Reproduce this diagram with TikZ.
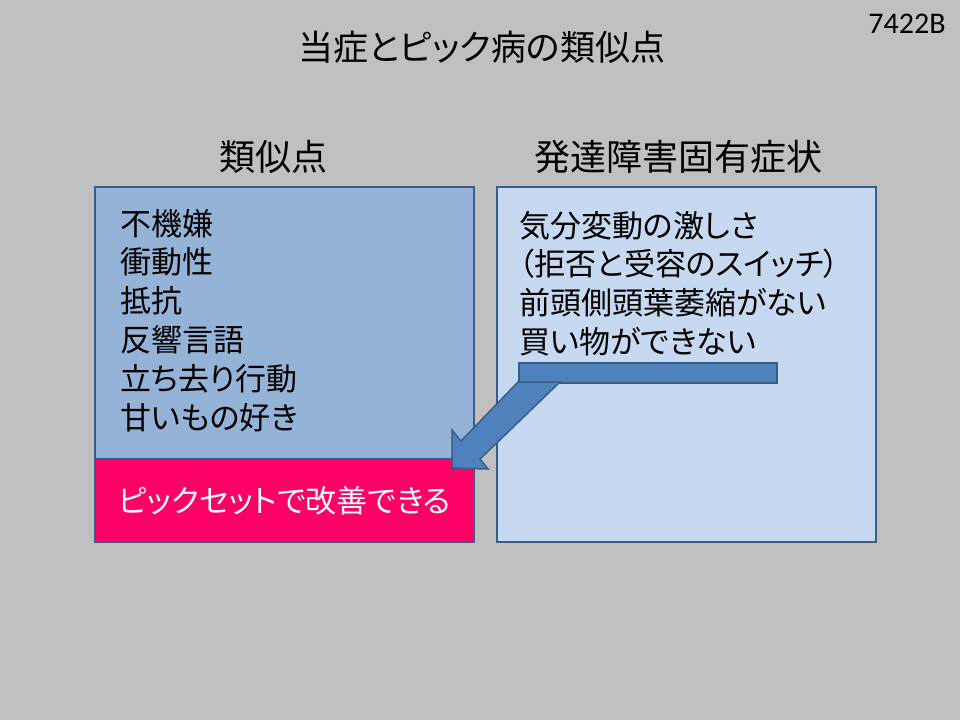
\documentclass[tikz,border=0pt]{standalone}
\usepackage{fontspec}
\setmainfont{Noto Sans CJK JP}[RawFeature=+palt]
\newfontfamily\latinfont{Carlito}
\usetikzlibrary{positioning}
\definecolor{slidegray}{HTML}{C0C0C0}
\definecolor{boxedge}{HTML}{385D8A}
\definecolor{simfill}{HTML}{95B3D7}
\definecolor{ownfill}{HTML}{C6D9F1}
\definecolor{pickpink}{HTML}{FF0066}
\definecolor{arrowfill}{HTML}{4F81BD}
\begin{document}
\begin{tikzpicture}[x=1pt,y=-1pt,
 panel/.style={draw=boxedge,line width=2pt,inner sep=0pt,anchor=north west},
 item/.style={anchor=base west,inner sep=0pt,font=\fontsize{31}{38}\selectfont},
 head/.style={anchor=base,inner sep=0pt,font=\fontsize{36}{42}\selectfont}]
\useasboundingbox[fill=slidegray] (0,0) rectangle (960,720);
\node[anchor=base,inner sep=0pt,font=\latinfont\fontsize{30}{34}\selectfont] (code) at (907,33) {7422B};
\node[anchor=base,inner sep=0pt,font=\fontsize{35}{40}\selectfont] (title) at (482,60) {当症とピック病の類似点};
\node[head] (simhead) at (273,170) {類似点};
\node[head] (ownhead) at (678,170) {発達障害固有症状};
% boxes
\node[panel,fill=simfill,minimum width=379pt,minimum height=272pt] (sim) at (94,186) {};
\node[panel,fill=pickpink,minimum width=379pt,minimum height=83pt] (pick) at (94,458) {};
\node[panel,fill=ownfill,minimum width=379pt,minimum height=355pt] (own) at (496,186) {};
\foreach \t [count=\i from 0] in {不機嫌,衝動性,抵抗,反響言語,立ち去り行動,甘いもの好き}
  \node[item] (sim\i) at (120,235+38.8*\i) {\t};
\foreach \t [count=\i from 0] in {気分変動の激しさ,（拒否と受容のスイッチ）,前頭側頭葉萎縮がない,買い物ができない}
  \node[item] (own\i) at (519,237+38.8*\i) {\t};
\node[text=white,inner sep=0pt,font=\fontsize{31}{36}\selectfont] (picktext) at (pick.center) {ピックセットで改善できる};
% bar and arrow
\node[draw=boxedge,line width=1.5pt,fill=arrowfill,inner sep=0pt,anchor=north west,minimum width=258pt,minimum height=20pt] (bar) at (518,362) {};
\draw[boxedge,line width=1.5pt,fill=arrowfill,line join=miter] (518,382) -- (461,441) -- (452,430) -- (452,468) -- (488,469) -- (480,459) -- (560,382) -- cycle;
\end{tikzpicture}
\end{document}
